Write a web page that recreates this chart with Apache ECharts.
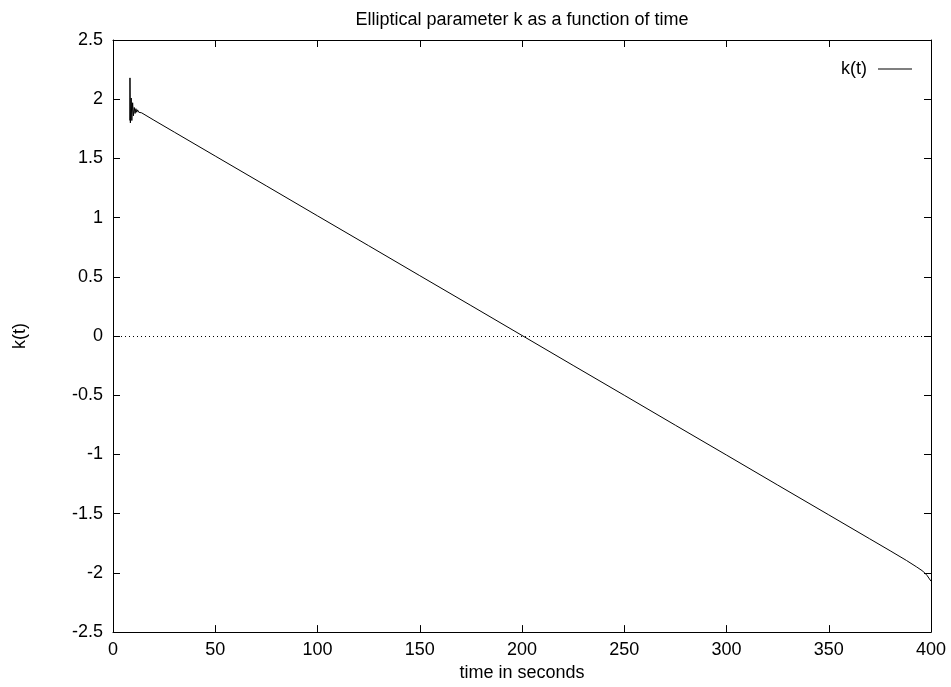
<!DOCTYPE html>
<html>
<head>
<meta charset="utf-8">
<script src="https://cdn.jsdelivr.net/npm/echarts@6/dist/echarts.min.js"></script>
<style>
  html, body { margin: 0; padding: 0; background: #fff; }
  #chart { width: 951px; height: 687px; }
</style>
</head>
<body>
<div id="chart"></div>
<script>
// Time samples (seconds) and the elliptical parameter k at those times
var timeSec = [8.2, 8.3, 8.5, 8.9, 9.2, 9.6, 10.0, 10.4, 10.8, 11.2, 11.6, 12.0, 12.6, 14,
  20, 30, 50, 75, 100, 125, 150, 175, 200, 225, 250, 275, 300, 325, 350, 370, 380, 388, 393, 396, 398, 400];
var kValues = [1.82, 2.18, 1.80, 2.01, 1.82, 1.97, 1.86, 1.93, 1.88, 1.92, 1.89, 1.91, 1.89, 1.885,
  1.823, 1.722, 1.52, 1.268, 1.015, 0.763, 0.51, 0.258, 0.005, -0.248, -0.50, -0.753, -1.005, -1.258, -1.51, -1.712, -1.813, -1.895, -1.95, -1.985, -2.02, -2.07];

var series = timeSec.map(function (t, i) { return [t, kValues[i]]; });

var FONT = 'Liberation Sans, Arial, sans-serif';
var FS = 18;
var chart = echarts.init(document.getElementById('chart'), null, { renderer: 'canvas' });

var tickStyle = { inside: true, length: 7, lineStyle: { color: '#000', width: 1 } };
var lineStyle = { show: true, onZero: false, lineStyle: { color: '#000', width: 1 } };

chart.setOption({
  animation: false,
  backgroundColor: '#fff',
  title: {
    text: 'Elliptical parameter k as a function of time',
    left: 522, top: 11, padding: 0, textAlign: 'center',
    textStyle: { fontFamily: FONT, fontSize: FS, fontWeight: 'normal', color: '#000', lineHeight: 18 }
  },
  legend: {
    data: ['k(t)'],
    right: 39, top: 60, padding: 0,
    align: 'right',
    itemWidth: 34, itemHeight: 1, itemGap: 10,
    icon: 'rect',
    textStyle: { fontFamily: FONT, fontSize: FS, color: '#000', padding: [0, 6, 0, 0] }
  },
  grid: { left: 113, right: 20, top: 40, bottom: 51, containLabel: false },
  xAxis: [{
    type: 'value', min: 0, max: 400, interval: 50,
    name: 'time in seconds', nameLocation: 'middle', nameGap: 29,
    nameTextStyle: { fontFamily: FONT, fontSize: FS, color: '#000' },
    axisLine: lineStyle, axisTick: tickStyle,
    axisLabel: { fontFamily: FONT, fontSize: FS, color: '#000', margin: 9 },
    splitLine: { show: false }
  }, {
    type: 'value', min: 0, max: 400, interval: 50, position: 'top',
    axisLine: lineStyle, axisTick: tickStyle, axisLabel: { show: false }, splitLine: { show: false }
  }],
  yAxis: [{
    type: 'value', min: -2.5, max: 2.5, interval: 0.5,
    name: 'k(t)', nameLocation: 'middle', nameGap: 84, nameRotate: 90,
    nameTextStyle: { fontFamily: FONT, fontSize: FS, color: '#000' },
    axisLine: lineStyle, axisTick: tickStyle,
    axisLabel: { fontFamily: FONT, fontSize: FS, color: '#000', margin: 10 },
    splitLine: { show: false }
  }, {
    type: 'value', min: -2.5, max: 2.5, interval: 0.5, position: 'right',
    axisLine: lineStyle, axisTick: tickStyle, axisLabel: { show: false }, splitLine: { show: false }
  }],
  series: [{
    name: 'k(t)', type: 'line', data: series,
    showSymbol: false, symbol: 'none',
    lineStyle: { color: '#000', width: 1 },
    itemStyle: { color: '#000' },
    markLine: {
      silent: true, symbol: 'none', label: { show: false },
      lineStyle: { color: '#000', width: 1, type: [1, 3] },
      data: [{ yAxis: 0 }]
    }
  }]
});
</script>
</body>
</html>
